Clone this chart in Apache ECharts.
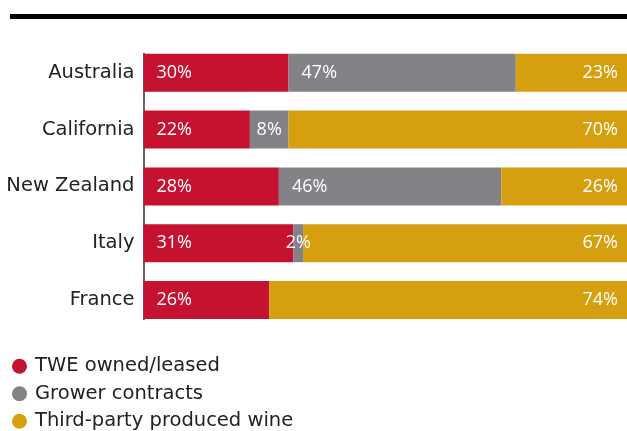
<!DOCTYPE html>
<html>
<head>
<meta charset="utf-8">
<script src="https://cdn.jsdelivr.net/npm/echarts@6/dist/echarts.min.js"></script>
<style>html,body{margin:0;padding:0;background:#fff}#c{width:627px;height:431px}</style>
</head>
<body>
<div id="c"></div>
<script>
var categories = ['Australia', 'California', 'New Zealand', 'Italy', 'France'];
var seriesNames = ['TWE owned/leased', 'Grower contracts', 'Third-party produced wine'];
var owned = [30, 22, 28, 31, 26];
var grower = [47, 8, 46, 2, 0];
var thirdParty = [23, 70, 26, 67, 74];
var colors = ['#C41230', '#838287', '#D69F10'];
var FONT = 'Open Sans';
var CAT_FONT = 'DejaVu Sans';

var chart = echarts.init(document.getElementById('c'), null, {renderer: 'canvas'});

function labelFor(pos) {
  return {
    show: true,
    position: pos,
    distance: pos === 'insideLeft' ? 13 : 9,
    color: '#ffffff',
    fontSize: 18,
    fontFamily: FONT,
    fontWeight: 'normal',
    formatter: function (p) { return p.value > 0 ? p.value + '%' : ''; }
  };
}

function buildData(vals, pos) {
  return vals.map(function (v) {
    if (pos === 'insideLeft' && v < 10) {
      return {value: v, label: {position: 'inside', distance: 0}};
    }
    return v;
  });
}

var cats = categories.slice().reverse();
function rev(a) { return a.slice().reverse(); }

var option = {
  animation: false,
  graphic: [{
    type: 'rect',
    shape: {x: 10, y: 14, width: 617, height: 5},
    style: {fill: '#000'}
  }],
  legend: {
    orient: 'vertical',
    left: 7,
    top: 351,
    height: 120,
    icon: 'circle',
    itemWidth: 15,
    itemHeight: 15,
    itemGap: 7,
    textStyle: {fontSize: 19.5, lineHeight: 20.5, fontFamily: CAT_FONT, color: '#222', padding: [0, 0, 0, 3]},
    data: seriesNames
  },
  grid: [
    {left: 143.5, right: 0, top: 44.4, bottom: 431 - 328.4},
    {left: 143.5, right: 0, top: 53.5, bottom: 431 - 319.5}
  ],
  xAxis: [
    {type: 'value', gridIndex: 0, min: 0, max: 100, show: false},
    {type: 'value', gridIndex: 1, min: 0, max: 100, show: false}
  ],
  yAxis: [
    {
      type: 'category', gridIndex: 0, data: cats,
      axisLine: {show: false}, axisTick: {show: false},
      axisLabel: {fontSize: 19.5, fontFamily: CAT_FONT, color: '#222', margin: 9}
    },
    {
      type: 'value', gridIndex: 1, min: 0, max: 1,
      axisLine: {show: true, lineStyle: {color: '#333', width: 1.5}},
      axisTick: {show: false}, axisLabel: {show: false}, splitLine: {show: false}
    }
  ],
  series: [
    {name: seriesNames[0], type: 'bar', stack: 's', data: buildData(rev(owned), 'insideLeft'),
     itemStyle: {color: colors[0]}, label: labelFor('insideLeft'), barWidth: 38},
    {name: seriesNames[1], type: 'bar', stack: 's', data: buildData(rev(grower), 'insideLeft'),
     itemStyle: {color: colors[1]}, label: labelFor('insideLeft'), barWidth: 38},
    {name: seriesNames[2], type: 'bar', stack: 's', data: rev(thirdParty),
     itemStyle: {color: colors[2]}, label: labelFor('insideRight'), barWidth: 38}
  ]
};
chart.setOption(option);
</script>
</body>
</html>
